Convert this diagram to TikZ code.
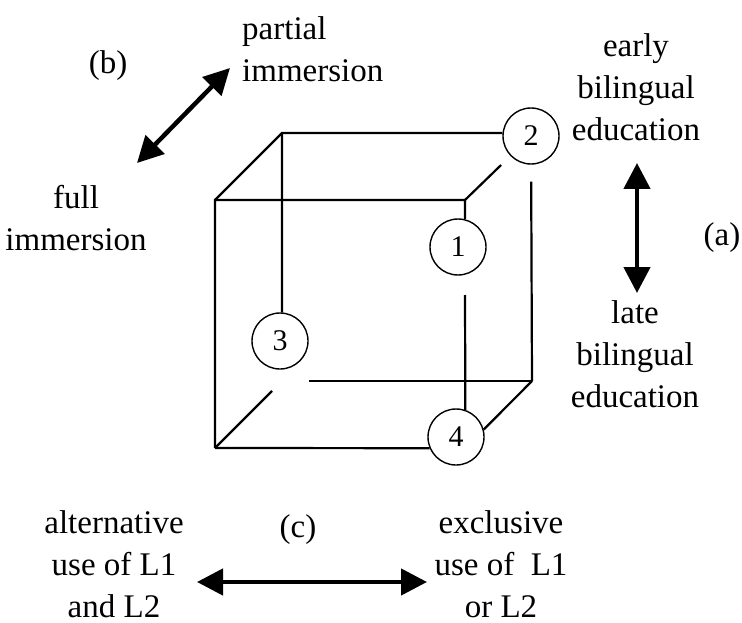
\documentclass[tikz,border=0pt]{standalone}
\usepackage{fontspec}
\setmainfont{Liberation Serif}
\usetikzlibrary{arrows.meta}

\begin{document}
\begin{tikzpicture}[
  x=1pt, y=-1pt,
  >={Triangle[length=26pt,width=26pt]},
  num/.style={circle,draw,line width=1.4pt,minimum size=56pt,inner sep=0pt,
    font=\fontsize{30}{36}\selectfont},
  edge/.style={line width=2.2pt},
  txt/.style={align=center,inner sep=0pt,anchor=north,font=\fontsize{33}{42}\selectfont},
  tag/.style={inner sep=0pt,font=\fontsize{33}{42}\selectfont},
  dbl/.style={<->,line width=4.5pt}
]
  \useasboundingbox (0,0) rectangle (742,623);

  % cube corners
  \coordinate (ftl) at (215,200);
  \coordinate (ftr) at (465,200);
  \coordinate (fbl) at (215,448);
  \coordinate (btl) at (282,133);
  \coordinate (bbl) at (282,381);
  \coordinate (bbr) at (532,381);
  \coordinate (gap) at (465,295);

  \node[num] (c1) at (458,247) {1};
  \node[num] (c2) at (531,136) {2};
  \node[num] (c3) at (280,341) {3};
  \node[num] (c4) at (456,437) {4};

  \draw[edge] (fbl) -- (ftl) -- (ftr) -- (c1.76);
  \draw[edge] (gap) -- (c4.71);
  \draw[edge] (ftl) -- (btl) -- (c2.west |- btl);
  \draw[edge] (btl) -- (c3.86);
  \draw[edge] (fbl) -- (c4.203);
  \draw[edge] (bbr) -- (c4.15);
  \draw[edge] (bbr) -- (c3.east |- bbr);
  \draw[edge,shorten >=17pt] (bbr) -- (c2);
  \draw[edge,shorten >=13pt] (ftr) -- (c2);
  \draw[edge,shorten >=14pt] (fbl) -- (bbl);

  % labels
  \node[txt,align=left,anchor=north west] (partial) at (242,16) {partial\\immersion};
  \node[txt] (full) at (76,185) {full\\immersion};
  \node[txt] (early) at (636,33) {early\\bilingual\\education};
  \node[txt] (late) at (635,300) {late\\bilingual\\education};
  \node[txt] (altern) at (114,510) {alternative\\use of L1\\and L2};
  \node[txt] (exclus) at (501,510) {exclusive\\use of\ \ L1\\or L2};
  \node[tag] (tb) at (108,66) {(b)};
  \node[tag] (ta) at (722,238) {(a)};
  \node[tag] (tc) at (298,530) {(c)};

  % arrows
  \coordinate (b1) at (137,163);
  \coordinate (b2) at (230,68);
  \coordinate (a1) at (637,163);
  \coordinate (a2) at (637,293);
  \coordinate (e1) at (197,582);
  \coordinate (e2) at (427,582);
  \draw[dbl] (b1) -- (b2);
  \draw[dbl] (a1) -- (a2);
  \draw[dbl] (e1) -- (e2);
\end{tikzpicture}
\end{document}
